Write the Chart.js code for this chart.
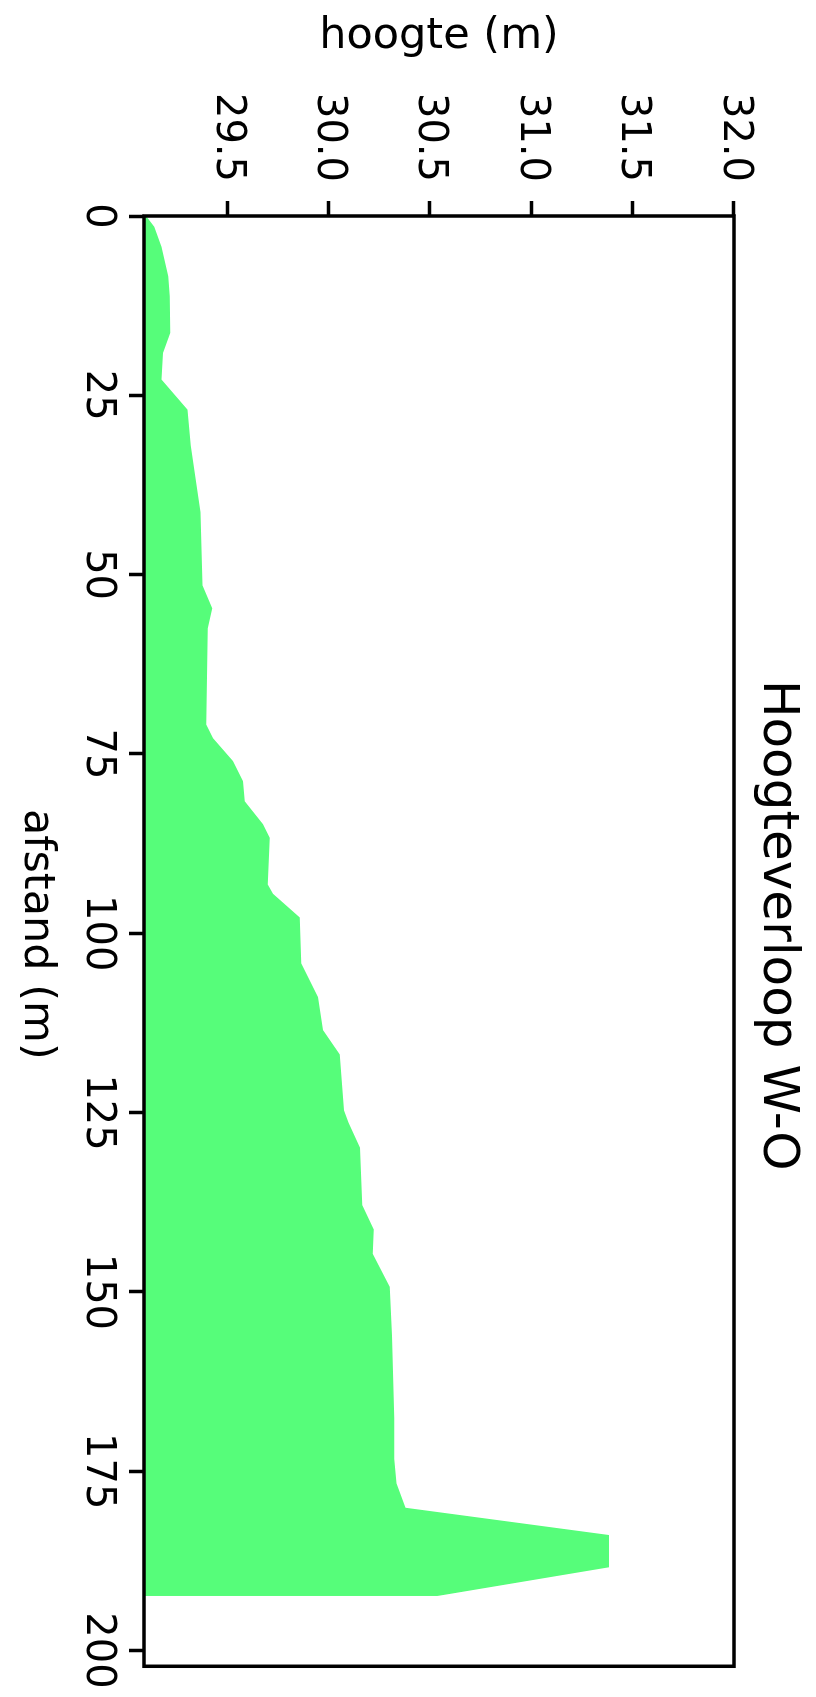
<!DOCTYPE html>
<html>
<head>
<meta charset="utf-8">
<script src="https://cdn.jsdelivr.net/npm/chart.js@4"></script>
<style>
  html, body { margin: 0; padding: 0; background: #fff; overflow: hidden; }
  /* chart is drawn landscape, then turned a quarter clockwise like the reference */
  #wrap {
    position: absolute; left: 0; top: 0;
    width: 1697px; height: 816px;
    transform-origin: 0 0;
    transform: translate(816px, 0) rotate(90deg);
  }
</style>
</head>
<body>
<div id="wrap"><canvas id="profiel" width="1697" height="816"></canvas></div>
<script>
// afstand (m) along the W-O line and the height read at that point
const afstand = [0, 1.5, 4.3, 8.4, 11.2, 16.3, 19.1, 22.8, 27, 32, 41.3, 51.5, 54.7, 57.5,
  70.9, 72.8, 76, 78.8, 81.6, 84.8, 86.7, 93.2, 94.5, 97.8, 104.2, 108.9, 113.5, 116.9,
  124.7, 126.4, 129.9, 137.9, 141.3, 144.7, 149.3, 156.1, 167.6, 173.3, 176.7, 180.1,
  183.9, 188.4, 192.4];
const hoogte = [29.10, 29.14, 29.176, 29.209, 29.217, 29.22, 29.184, 29.176, 29.304, 29.32, 29.369, 29.378, 29.427, 29.405,
  29.397, 29.43, 29.529, 29.578, 29.587, 29.677, 29.71, 29.70, 29.726, 29.858, 29.866, 29.948, 29.973, 30.055,
  30.076, 30.099, 30.155, 30.166, 30.223, 30.218, 30.302, 30.313, 30.324, 30.324, 30.335, 30.38,
  31.384, 31.384, 30.538];

const afstandTicks = [0, 25, 50, 75, 100, 125, 150, 175, 200];
const hoogteTicks = [29.5, 30.0, 30.5, 31.0, 31.5, 32.0];

const FONT = 'DejaVu Sans';

// black box round the plot area
const frame = {
  id: 'frame',
  afterDatasetsDraw(chart) {
    const a = chart.chartArea;
    const ctx = chart.ctx;
    ctx.save();
    ctx.strokeStyle = '#000';
    ctx.lineWidth = 3.5;
    ctx.strokeRect(a.left, a.top, a.right - a.left, a.bottom - a.top);
    ctx.restore();
  }
};

function initChart() {
  const ctx = document.getElementById('profiel').getContext('2d');
  Chart.defaults.font.family = FONT;
  Chart.defaults.color = '#000';

  new Chart(ctx, {
    type: 'line',
    data: {
      datasets: [{
        label: 'hoogte',
        data: afstand.map((d, i) => ({ x: d, y: hoogte[i] })),
        borderWidth: 0,
        borderColor: 'rgba(0,0,0,0)',
        backgroundColor: 'rgb(86, 253, 122)',
        fill: 'start',
        pointRadius: 0,
        tension: 0
      }]
    },
    options: {
      responsive: false,
      devicePixelRatio: 1,
      animation: false,
      layout: { padding: { left: 0, top: 0, right: 25, bottom: 0 } },
      plugins: {
        legend: { display: false },
        tooltip: { enabled: false },
        title: {
          display: true,
          // trailing spaces nudge the centred title a little towards 0, as in the picture
          text: 'Hoogteverloop W-O  ',
          color: '#000',
          fullSize: false,
          font: { size: 50, weight: 'normal' },
          padding: { top: 9, bottom: 13 }
        }
      },
      scales: {
        x: {
          type: 'linear',
          min: 0,
          max: 202.2,
          afterFit: s => { s.height = 144; },
          afterBuildTicks: s => { s.ticks = afstandTicks.map(v => ({ value: v })); },
          border: { display: false },
          grid: { drawOnChartArea: false, tickLength: 15, tickWidth: 3.5, tickColor: '#000' },
          ticks: { font: { size: 40 }, color: '#000', padding: 8, maxRotation: 0, autoSkip: false },
          title: { display: true, text: 'afstand (m) ', color: '#000', font: { size: 43 }, padding: { top: 0, bottom: 10 } }
        },
        y: {
          type: 'linear',
          min: 29.09,
          max: 32.0,
          afterFit: s => { s.width = 216; },
          afterBuildTicks: s => { s.ticks = hoogteTicks.map(v => ({ value: v })); },
          border: { display: false },
          grid: { drawOnChartArea: false, tickLength: 15, tickWidth: 3.5, tickColor: '#000' },
          ticks: {
            font: { size: 40 }, color: '#000', padding: 19, autoSkip: false,
            callback: v => Number(v).toFixed(1)
          },
          title: { display: true, text: 'hoogte (m)', color: '#000', font: { size: 43 }, padding: { top: 11, bottom: 0 } }
        }
      }
    },
    plugins: [frame]
  });
}

initChart();
</script>
</body>
</html>
